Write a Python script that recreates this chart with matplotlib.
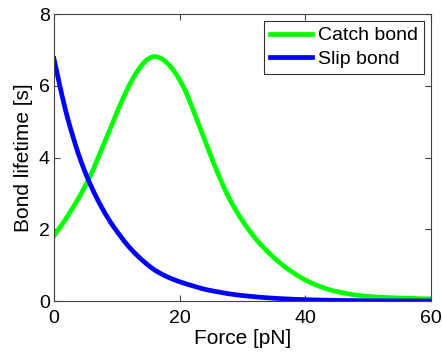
import numpy as np
import matplotlib
matplotlib.use("Agg")
import matplotlib.pyplot as plt

# valores
force_catch = [0, 1, 2, 3, 4, 5, 6, 7, 8, 9, 10, 11, 12, 13, 14, 15, 16, 17, 18,
               19, 20, 21, 22, 23, 24, 25, 26, 27, 28, 29, 30, 31, 32, 34, 36,
               38, 40, 42, 44, 46, 48, 50, 55, 60]
life_catch = [1.82, 2.06, 2.32, 2.60, 2.89, 3.21, 3.57, 3.98, 4.40, 4.82, 5.25,
              5.65, 6.02, 6.33, 6.58, 6.75, 6.82, 6.77, 6.64, 6.44, 6.17, 5.83,
              5.40, 4.95, 4.49, 4.03, 3.60, 3.19, 2.83, 2.52, 2.24, 1.99, 1.76,
              1.38, 1.06, 0.80, 0.59, 0.43, 0.31, 0.23, 0.17, 0.13, 0.085, 0.06]

force_slip = [0, 1, 2, 3, 4, 5, 6, 7, 8, 9, 10, 12, 14, 16, 18, 20, 22, 24, 26,
              28, 30, 35, 40, 45, 50, 60]
life_slip = [6.76, 5.95, 5.22, 4.60, 4.05, 3.58, 3.17, 2.81, 2.49, 2.20, 1.95,
             1.50, 1.15, 0.87, 0.68, 0.54, 0.43, 0.33, 0.26, 0.20, 0.155, 0.08,
             0.04, 0.02, 0.01, 0.003]


def suave(x, y, n=600):
    # interpolacion monotona (pchip) solo para dibujar la curva lisa
    x = np.asarray(x, float)
    y = np.asarray(y, float)
    h = np.diff(x)
    d = np.diff(y) / h
    m = np.zeros_like(y)
    for k in range(1, len(x) - 1):
        if d[k - 1] * d[k] > 0:
            w1 = 2 * h[k] + h[k - 1]
            w2 = h[k] + 2 * h[k - 1]
            m[k] = (w1 + w2) / (w1 / d[k - 1] + w2 / d[k])
    m[0] = d[0]
    m[-1] = d[-1]
    xs = np.linspace(x[0], x[-1], n)
    idx = np.clip(np.searchsorted(x, xs) - 1, 0, len(x) - 2)
    t = (xs - x[idx]) / h[idx]
    h00 = 2 * t**3 - 3 * t**2 + 1
    h10 = t**3 - 2 * t**2 + t
    h01 = -2 * t**3 + 3 * t**2
    h11 = t**3 - t**2
    ys = h00 * y[idx] + h10 * h[idx] * m[idx] + h01 * y[idx + 1] + h11 * h[idx] * m[idx + 1]
    return xs, ys


plt.rcParams['font.family'] = ['Liberation Sans', 'DejaVu Sans']

fig = plt.figure(figsize=(4.42, 3.53), dpi=100)
ax = fig.add_axes([0.122, 0.147, 0.853, 0.813])

xc, yc = suave(force_catch, life_catch)
xs, ys = suave(force_slip, life_slip)
ax.plot(xc, yc, color=(0, 1, 0), lw=3.4, label="Catch bond")
ax.plot(xs, ys, color=(0, 0, 1), lw=3.4, label="Slip bond")

ax.set_xlim(0, 60)
ax.set_ylim(0, 8)
ax.set_xticks([0, 20, 40, 60])
ax.set_yticks([0, 2, 4, 6, 8])
ax.tick_params(direction='in', top=True, right=True, labelsize=14, length=4,
               color='#404040')
ax.tick_params(axis='x', pad=6.5)
ax.tick_params(axis='y', pad=3)
for s in ax.spines.values():
    s.set_color('#404040')
    s.set_linewidth(0.8)

ax.set_xlabel("Force [pN]", fontsize=15, labelpad=1.5)
ax.set_ylabel("Bond lifetime [s]", fontsize=15, labelpad=4.5)

leg = ax.legend(loc='upper right', fontsize=14, fancybox=False, framealpha=1,
                edgecolor='#303030', handlelength=2.2, handletextpad=0.3,
                borderpad=0.3, labelspacing=0.3, borderaxespad=0.35)
leg.get_frame().set_linewidth(0.8)

plt.savefig("out.png", dpi=100)
